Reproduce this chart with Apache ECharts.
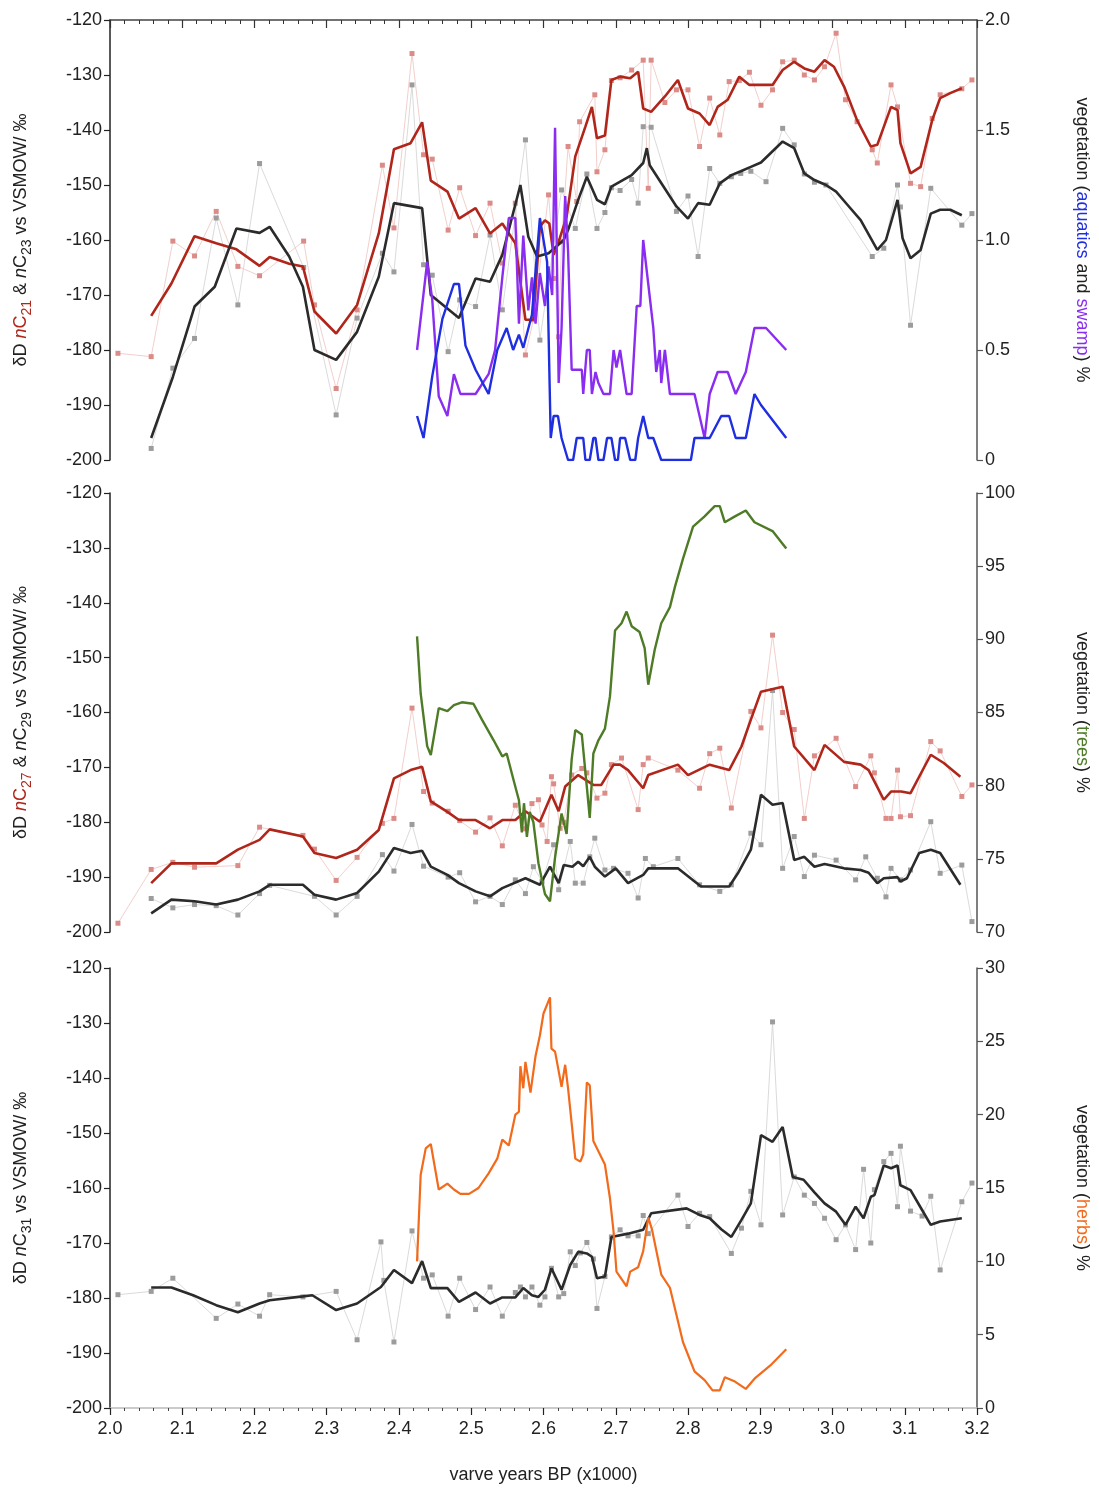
<!DOCTYPE html>
<html>
<head>
<meta charset="utf-8">
<script src="https://cdn.jsdelivr.net/npm/echarts@6/dist/echarts.min.js"></script>
<style>
  html, body { margin: 0; padding: 0; background: #fff; }
  #chart { width: 1099px; height: 1497px; }
</style>
</head>
<body>
<div id="chart"></div>
<script>
// [varve years BP (x1000), value]
// panel 1 : nC21 (red) / nC23 (black) dD, aquatics + swamp %
const c21Raw = [[2.011,-180.6],[2.057,-181.2],[2.087,-160.2],[2.117,-162.9],[2.147,-154.8],[2.177,-164.8],[2.207,-166.5],[2.268,-160.2],[2.283,-171.8],[2.313,-187],[2.342,-172.7],[2.377,-146.4],[2.393,-157.8],[2.418,-126.1],[2.434,-144.5],[2.446,-145.3],[2.468,-158.2],[2.484,-150.5],[2.506,-159.2],[2.526,-153.3],[2.543,-164.2],[2.561,-153.3],[2.575,-180.9],[2.586,-174.5],[2.607,-151.8],[2.616,-167],[2.621,-177.6],[2.625,-160.3],[2.634,-143],[2.646,-153],[2.65,-138.5],[2.671,-133.6],[2.674,-147.6],[2.685,-143.6],[2.694,-131],[2.706,-130.5],[2.722,-129.1],[2.738,-127.3],[2.745,-150.6],[2.749,-127.3],[2.768,-135],[2.784,-132.7],[2.8,-132.7],[2.816,-143],[2.83,-134.2],[2.844,-140.9],[2.857,-131.2],[2.871,-131],[2.885,-129.5],[2.901,-135.5],[2.917,-132.7],[2.931,-127.6],[2.947,-127.3],[2.961,-130],[2.975,-130.9],[2.989,-128.5],[3.005,-122.4],[3.018,-134.5],[3.034,-138.5],[3.055,-143.6],[3.062,-146],[3.081,-131.8],[3.09,-135.8],[3.108,-149.7],[3.122,-150.3],[3.138,-137.9],[3.149,-133.6],[3.179,-132.5],[3.193,-130.9]];
const c21Mean = [[2.057,-173.8],[2.085,-167.9],[2.117,-159.3],[2.147,-160.6],[2.175,-161.7],[2.207,-164.7],[2.221,-163.1],[2.248,-164.3],[2.267,-164.8],[2.283,-173],[2.313,-177],[2.342,-171.8],[2.372,-158.8],[2.393,-143.5],[2.416,-142.4],[2.432,-138.6],[2.444,-149.2],[2.467,-151.2],[2.483,-156.1],[2.506,-154.2],[2.526,-158.8],[2.543,-157],[2.561,-160.6],[2.575,-174.5],[2.586,-174.5],[2.595,-157.6],[2.602,-156.4],[2.608,-157],[2.614,-162.7],[2.621,-160.3],[2.632,-155.8],[2.644,-144.8],[2.658,-139.4],[2.667,-135.8],[2.674,-141.5],[2.685,-141],[2.694,-130.9],[2.706,-130.3],[2.72,-130.6],[2.731,-129.4],[2.738,-136.1],[2.749,-136.7],[2.768,-133.9],[2.786,-130.9],[2.8,-136.1],[2.816,-137],[2.83,-139.1],[2.841,-135.8],[2.855,-134.5],[2.871,-130.3],[2.885,-131.8],[2.901,-131.8],[2.917,-131.8],[2.931,-129.1],[2.947,-127.6],[2.961,-128.8],[2.975,-129.4],[2.989,-127.3],[3.002,-128.5],[3.016,-132.1],[3.034,-138.2],[3.053,-143],[3.062,-142.7],[3.081,-135.8],[3.09,-136.4],[3.094,-142.4],[3.108,-147.9],[3.122,-146.7],[3.138,-138.2],[3.149,-134.2],[3.163,-133.3],[3.179,-132.4]];
const c23Raw = [[2.057,-197.9],[2.087,-183.3],[2.117,-177.9],[2.147,-156],[2.177,-171.8],[2.207,-146.1],[2.268,-165],[2.313,-191.8],[2.342,-174.2],[2.377,-162.4],[2.393,-165.8],[2.418,-131.8],[2.434,-164.5],[2.446,-166.4],[2.468,-180.3],[2.484,-170.9],[2.506,-172.1],[2.526,-159.1],[2.543,-172.7],[2.575,-141.8],[2.595,-178.2],[2.625,-150.9],[2.644,-157.9],[2.66,-148],[2.674,-157.9],[2.685,-155],[2.694,-150.5],[2.706,-151],[2.722,-149],[2.731,-153.3],[2.738,-139.4],[2.749,-139.5],[2.784,-154.8],[2.8,-152],[2.814,-163],[2.83,-147],[2.844,-149.7],[2.86,-148.5],[2.873,-147.9],[2.887,-147.5],[2.908,-149.4],[2.931,-139.7],[2.947,-142.7],[2.961,-148],[2.975,-149.5],[2.991,-150],[3.055,-163],[3.071,-161.5],[3.09,-150],[3.094,-154],[3.108,-175.5],[3.136,-150.6],[3.179,-157.3],[3.193,-155.2]];
const c23Mean = [[2.057,-196],[2.087,-184.9],[2.117,-172.1],[2.145,-168.5],[2.175,-157.9],[2.207,-158.7],[2.221,-157.6],[2.248,-163],[2.267,-168.5],[2.283,-180],[2.313,-181.8],[2.342,-176.7],[2.372,-166.7],[2.393,-153.3],[2.432,-154.2],[2.444,-170],[2.483,-174.2],[2.506,-167],[2.526,-167.6],[2.543,-162.7],[2.568,-150],[2.579,-159.4],[2.591,-163],[2.607,-162.4],[2.628,-160],[2.634,-158.2],[2.648,-152.7],[2.66,-148.5],[2.674,-152.7],[2.685,-153.5],[2.694,-150.3],[2.722,-148.2],[2.738,-146],[2.743,-143.3],[2.747,-146.4],[2.784,-153.9],[2.8,-156.1],[2.814,-153.3],[2.83,-153.6],[2.844,-149.7],[2.86,-148.2],[2.873,-147.5],[2.887,-146.7],[2.901,-145.9],[2.931,-142.1],[2.947,-143.3],[2.961,-147.9],[2.975,-149.1],[2.991,-150],[3.005,-151.2],[3.02,-153.5],[3.039,-156.4],[3.062,-161.8],[3.074,-160],[3.09,-152.7],[3.097,-159.7],[3.108,-163.3],[3.122,-161.8],[3.136,-155.2],[3.149,-154.5],[3.163,-154.5],[3.179,-155.5]];
const aquatics = [[2.425,0.2],[2.434,0.1],[2.446,0.38],[2.46,0.64],[2.476,0.8],[2.483,0.8],[2.492,0.52],[2.506,0.41],[2.524,0.3],[2.536,0.5],[2.549,0.6],[2.558,0.5],[2.566,0.57],[2.572,0.51],[2.584,0.66],[2.595,1.1],[2.605,0.9],[2.61,0.1],[2.614,0.2],[2.62,0.2],[2.625,0.1],[2.634,0],[2.641,0],[2.646,0.1],[2.655,0.1],[2.658,0],[2.664,0],[2.669,0.1],[2.672,0.1],[2.676,0],[2.683,0],[2.688,0.1],[2.694,0.1],[2.699,0],[2.703,0],[2.706,0.1],[2.713,0.1],[2.72,0],[2.727,0],[2.731,0.1],[2.738,0.2],[2.745,0.1],[2.752,0.1],[2.763,0],[2.804,0],[2.809,0.1],[2.83,0.1],[2.846,0.2],[2.857,0.2],[2.866,0.1],[2.88,0.1],[2.892,0.3],[2.901,0.25],[2.936,0.1]];
const swamp = [[2.425,0.5],[2.439,0.9],[2.446,0.73],[2.455,0.29],[2.467,0.2],[2.476,0.39],[2.485,0.3],[2.506,0.3],[2.524,0.39],[2.533,0.5],[2.543,0.83],[2.552,1.1],[2.561,1.1],[2.566,0.62],[2.572,1.02],[2.579,0.68],[2.584,0.83],[2.589,0.62],[2.595,0.85],[2.602,0.7],[2.607,0.88],[2.612,0.75],[2.616,1.51],[2.621,0.35],[2.625,0.6],[2.63,1.2],[2.634,0.95],[2.639,0.41],[2.653,0.41],[2.655,0.3],[2.66,0.5],[2.664,0.5],[2.667,0.3],[2.672,0.4],[2.676,0.35],[2.683,0.3],[2.692,0.3],[2.697,0.5],[2.701,0.42],[2.706,0.5],[2.715,0.3],[2.722,0.3],[2.729,0.7],[2.734,0.7],[2.738,1.0],[2.745,0.8],[2.752,0.6],[2.756,0.4],[2.761,0.5],[2.763,0.35],[2.768,0.5],[2.775,0.3],[2.809,0.3],[2.823,0.1],[2.83,0.3],[2.841,0.4],[2.855,0.4],[2.866,0.3],[2.88,0.4],[2.892,0.6],[2.908,0.6],[2.936,0.5]];

// panel 2 : nC27 (red) / nC29 (black) dD, trees %
const c27Raw = [[2.011,-198.4],[2.057,-188.6],[2.087,-187.3],[2.117,-188.2],[2.177,-187.9],[2.207,-180.9],[2.267,-182.4],[2.283,-184.9],[2.313,-190.6],[2.342,-186.4],[2.377,-180.2],[2.393,-179.3],[2.418,-159.2],[2.434,-174.4],[2.446,-176.5],[2.468,-178],[2.484,-179.7],[2.506,-181.8],[2.526,-179.2],[2.543,-184.3],[2.561,-176.9],[2.575,-181.2],[2.584,-176.6],[2.593,-175.9],[2.598,-180.5],[2.605,-183.5],[2.611,-171.7],[2.614,-173],[2.623,-181.1],[2.628,-180],[2.639,-171.4],[2.653,-170.2],[2.66,-171],[2.674,-175.6],[2.685,-174.7],[2.694,-169.5],[2.708,-168.3],[2.731,-177.7],[2.738,-169.5],[2.745,-168.3],[2.786,-170.5],[2.816,-173.8],[2.83,-167.5],[2.844,-166.5],[2.86,-177.4],[2.887,-159.8],[2.901,-162.8],[2.917,-145.9],[2.931,-160],[2.947,-163.1],[2.961,-179.3],[2.975,-167.9],[3.005,-164.7],[3.032,-173.5],[3.053,-167.9],[3.058,-171],[3.074,-179.3],[3.081,-179.3],[3.09,-170.5],[3.094,-179],[3.108,-178.8],[3.136,-165.3],[3.149,-167],[3.179,-175.3],[3.193,-173.2]];
const c27Mean = [[2.057,-191.1],[2.085,-187.5],[2.117,-187.5],[2.147,-187.5],[2.177,-185],[2.207,-183.2],[2.221,-181.3],[2.267,-182.6],[2.283,-185.6],[2.313,-186.5],[2.342,-185],[2.372,-181.4],[2.393,-172],[2.416,-170.5],[2.432,-169.9],[2.444,-176.2],[2.467,-178.1],[2.483,-179.6],[2.506,-179.6],[2.526,-181.1],[2.543,-179.6],[2.561,-179.6],[2.575,-178],[2.595,-179.9],[2.611,-175],[2.621,-178],[2.63,-173.5],[2.648,-171.4],[2.669,-173.2],[2.68,-173.2],[2.697,-169.5],[2.706,-169.5],[2.717,-170.5],[2.738,-173.8],[2.745,-171.4],[2.786,-169.5],[2.8,-171.4],[2.83,-169.5],[2.857,-170.5],[2.874,-166.2],[2.887,-161.3],[2.901,-156.2],[2.931,-155.3],[2.947,-166.2],[2.975,-170.5],[2.989,-165.9],[3.016,-169],[3.039,-169.5],[3.05,-170.5],[3.071,-175.9],[3.081,-174.4],[3.095,-174.4],[3.108,-174.7],[3.136,-167.7],[3.154,-169.2],[3.177,-171.7]];
const c29Raw = [[2.057,-193.9],[2.087,-195.6],[2.117,-195],[2.147,-195.2],[2.177,-196.9],[2.207,-193],[2.221,-191.5],[2.283,-193.5],[2.313,-196.9],[2.342,-193.5],[2.377,-185.9],[2.393,-188.9],[2.418,-180.4],[2.434,-188],[2.468,-190],[2.484,-189.2],[2.506,-194.5],[2.526,-193.5],[2.543,-195],[2.561,-190.5],[2.575,-193],[2.586,-188.1],[2.598,-190.8],[2.614,-184.1],[2.621,-192.3],[2.637,-183.5],[2.644,-191.1],[2.655,-191.1],[2.664,-186.3],[2.671,-182.9],[2.685,-188.7],[2.697,-188.4],[2.717,-189.3],[2.731,-193.8],[2.741,-186.6],[2.752,-188.1],[2.786,-186.6],[2.816,-191.4],[2.844,-192.6],[2.86,-191.4],[2.887,-182],[2.901,-184.1],[2.917,-156],[2.931,-188.4],[2.947,-182.6],[2.961,-189.9],[2.975,-186],[3.005,-186.9],[3.032,-190.5],[3.046,-186.3],[3.062,-190.2],[3.074,-193.6],[3.081,-188.4],[3.094,-190.5],[3.108,-188.7],[3.136,-179.9],[3.149,-189.3],[3.179,-187.8],[3.193,-198.1]];
const c29Mean = [[2.057,-196.6],[2.085,-194.1],[2.117,-194.4],[2.147,-195],[2.177,-194.1],[2.207,-192.6],[2.221,-191.4],[2.267,-191.4],[2.283,-193.2],[2.313,-194.1],[2.342,-192.9],[2.372,-189],[2.393,-184.7],[2.416,-185.6],[2.432,-185.2],[2.444,-188.1],[2.467,-189.6],[2.483,-191.1],[2.506,-192.6],[2.526,-193.5],[2.543,-192],[2.575,-190.2],[2.595,-191.4],[2.609,-188.1],[2.621,-191.1],[2.628,-187.8],[2.64,-188.1],[2.648,-187.2],[2.655,-188],[2.664,-186.3],[2.671,-188.1],[2.685,-189.9],[2.7,-188.4],[2.717,-191.1],[2.738,-189.6],[2.745,-188.4],[2.786,-188.4],[2.818,-191.7],[2.857,-191.7],[2.869,-189.3],[2.887,-185],[2.901,-175],[2.917,-176.8],[2.931,-176.5],[2.947,-186.9],[2.961,-186.3],[2.975,-188.1],[2.989,-187.6],[3.016,-188.4],[3.039,-188.7],[3.05,-189.2],[3.062,-191.1],[3.071,-190.2],[3.09,-190],[3.094,-190.8],[3.103,-190.2],[3.12,-185.6],[3.136,-185],[3.149,-185.6],[3.177,-191.4]];
const trees = [[2.425,90.2],[2.43,86.3],[2.439,82.7],[2.444,82.1],[2.455,85.3],[2.467,85.1],[2.476,85.5],[2.487,85.7],[2.503,85.6],[2.515,84.5],[2.531,83.1],[2.543,82],[2.549,82.2],[2.559,80.3],[2.566,79],[2.57,76.8],[2.573,78.8],[2.577,76.5],[2.581,78.2],[2.586,77.5],[2.593,74.7],[2.602,72.6],[2.609,72.1],[2.616,75.1],[2.625,78.1],[2.632,76.7],[2.639,81.8],[2.644,83.8],[2.653,83.5],[2.66,79.9],[2.664,77.8],[2.669,82.2],[2.676,83.1],[2.685,83.9],[2.692,86.1],[2.699,90.6],[2.708,91.1],[2.715,91.9],[2.722,90.9],[2.733,90.5],[2.74,89.4],[2.745,86.9],[2.754,89.3],[2.763,91.1],[2.775,92.2],[2.782,93.6],[2.793,95.5],[2.807,97.7],[2.823,98.4],[2.837,99.1],[2.844,99.1],[2.851,98],[2.865,98.4],[2.88,98.8],[2.892,98],[2.917,97.4],[2.936,96.2]];

// panel 3 : nC31 (black) dD, herbs %
const c31Raw = [[2.011,-179.4],[2.057,-178.8],[2.087,-176.4],[2.147,-183.7],[2.177,-181.1],[2.207,-183.3],[2.221,-179.4],[2.267,-179.8],[2.313,-178.8],[2.342,-187.6],[2.375,-169.8],[2.379,-176.8],[2.393,-188],[2.418,-167.8],[2.434,-176.4],[2.446,-175.8],[2.468,-183.3],[2.484,-176.4],[2.506,-182.1],[2.526,-178],[2.543,-183.3],[2.561,-179],[2.568,-178],[2.575,-179.8],[2.584,-178],[2.595,-181.3],[2.602,-179.8],[2.611,-174.6],[2.621,-179.8],[2.628,-179.2],[2.637,-171.6],[2.644,-174.1],[2.651,-171.8],[2.66,-169.9],[2.669,-172.9],[2.674,-181.9],[2.685,-176.1],[2.694,-168.9],[2.706,-167.6],[2.717,-168.7],[2.731,-168.7],[2.738,-165],[2.745,-168.3],[2.786,-161.3],[2.8,-167],[2.816,-164.6],[2.83,-165.2],[2.86,-171.9],[2.874,-167.3],[2.887,-160.6],[2.901,-166.7],[2.917,-129.8],[2.931,-164.9],[2.947,-158],[2.961,-161.3],[2.975,-162.8],[2.989,-165.5],[3.005,-169.4],[3.018,-166.7],[3.032,-171.2],[3.043,-156.6],[3.053,-170],[3.058,-160.3],[3.071,-155.2],[3.081,-153.7],[3.09,-163.4],[3.094,-152.4],[3.108,-164.2],[3.124,-165.1],[3.136,-161.5],[3.149,-174.9],[3.179,-162.5],[3.193,-159.1]];
const c31Mean = [[2.057,-178.1],[2.085,-178.1],[2.115,-179.5],[2.147,-181.3],[2.177,-182.6],[2.207,-181],[2.221,-180.4],[2.267,-179.7],[2.28,-179.5],[2.313,-182.2],[2.342,-181],[2.375,-178],[2.393,-174.9],[2.418,-177.3],[2.432,-173.3],[2.444,-178.2],[2.467,-178.2],[2.483,-180.7],[2.506,-179],[2.526,-181],[2.543,-179.9],[2.561,-179.9],[2.572,-178.2],[2.584,-179.5],[2.593,-179.8],[2.602,-178.5],[2.611,-174.6],[2.625,-178.5],[2.637,-174],[2.648,-171.6],[2.66,-171.9],[2.667,-172.5],[2.674,-176.4],[2.685,-176.1],[2.694,-168.9],[2.717,-168.3],[2.738,-167.6],[2.749,-164.6],[2.798,-163.7],[2.816,-164.9],[2.83,-165.5],[2.846,-167.5],[2.86,-168.9],[2.874,-165.8],[2.887,-162.8],[2.901,-150.4],[2.917,-151.6],[2.931,-148.9],[2.945,-158],[2.96,-158.5],[2.975,-160.8],[2.989,-162.8],[3.005,-164.3],[3.018,-166.7],[3.032,-163.4],[3.043,-165.5],[3.053,-161.6],[3.058,-161.3],[3.071,-155.9],[3.081,-156.4],[3.09,-155.9],[3.094,-159.5],[3.108,-160.4],[3.124,-164],[3.136,-166.7],[3.149,-166.1],[3.179,-165.5]];
const herbs = [[2.425,10],[2.43,15.9],[2.437,17.7],[2.444,18],[2.455,14.9],[2.467,15.3],[2.476,14.9],[2.485,14.6],[2.497,14.6],[2.51,15],[2.524,16],[2.536,17],[2.543,18.3],[2.552,17.9],[2.561,20],[2.566,20.2],[2.568,23.3],[2.572,21.8],[2.575,23.6],[2.582,21.5],[2.589,24],[2.595,25.4],[2.6,26.9],[2.609,28],[2.611,24.5],[2.616,24.3],[2.625,21.9],[2.63,23.4],[2.634,21.8],[2.644,17],[2.651,16.8],[2.655,17.3],[2.66,22.2],[2.664,22],[2.669,18.2],[2.685,16.6],[2.692,14.3],[2.697,12],[2.701,9.3],[2.715,8.3],[2.72,9.3],[2.731,9.6],[2.738,10.7],[2.745,13],[2.75,12.2],[2.763,9.1],[2.775,8.2],[2.793,4.5],[2.809,2.5],[2.823,1.9],[2.834,1.2],[2.844,1.2],[2.851,2.1],[2.865,1.8],[2.88,1.3],[2.892,2],[2.914,2.9],[2.936,4]];

const RED = '#b0261b', BLACK = '#2b2b2b';
const BLUE = '#1f2ee0', PURPLE = '#8a2df0', GREEN = '#4e7b26', ORANGE = '#f26a1b';
const FONT = 'Liberation Sans';

const chart = echarts.init(document.getElementById('chart'))

const grids = [
  { left: 110, width: 870, top: 20, height: 440 },
  { left: 110, width: 870, top: 493, height: 439 },
  { left: 110, width: 870, top: 968, height: 440 }
]

function xAxis (idx) {
  const ax = {
    type: 'value', gridIndex: idx, min: 2.0, max: 3.2, interval: 0.1,
    splitLine: { show: false },
    axisLine: { show: false, onZero: false },
    axisTick: { show: false },
    axisLabel: { show: false }
  }
  if (idx === 0) {
    ax.position = 'top'
    ax.axisLine = { show: true, onZero: false, lineStyle: { color: '#444', width: 1.5 } }
    ax.axisTick = { show: true, inside: true, length: 8, lineStyle: { color: '#333', width: 1.2 } }
    ax.minorTick = { show: true, splitNumber: 5, length: 4, lineStyle: { color: '#333', width: 1 } }
  }
  if (idx === 2) {
    ax.position = 'bottom'
    ax.axisLine = { show: true, onZero: false, lineStyle: { color: '#bbb', width: 1.5 } }
    ax.axisTick = { show: true, length: 7, lineStyle: { color: '#222', width: 1.2 } }
    ax.minorTick = { show: true, splitNumber: 5, length: 3, lineStyle: { color: '#444', width: 1 } }
    ax.axisLabel = {
      show: true, fontSize: 18, color: '#222', fontFamily: FONT, margin: 12,
      formatter: v => v.toFixed(1)
    }
    ax.name = 'varve years BP (x1000)'
    ax.nameLocation = 'middle'
    ax.nameGap = 58
    ax.nameTextStyle = { fontSize: 18, color: '#222', fontFamily: FONT }
  }
  return ax
}

function richStyles () {
  const base = { fontSize: 18, fontFamily: FONT, color: '#222', lineHeight: 26, verticalAlign: 'middle' }
  const sub = { fontSize: 14, fontFamily: FONT, lineHeight: 26, verticalAlign: 'bottom' }
  return {
    a: base,
    i: Object.assign({}, base, { fontStyle: 'italic' }),
    s: Object.assign({}, sub, { color: '#222' }),
    r: Object.assign({}, base, { color: RED }),
    ri: Object.assign({}, base, { color: RED, fontStyle: 'italic' }),
    rs: Object.assign({}, sub, { color: RED }),
    b: Object.assign({}, base, { color: BLUE }),
    p: Object.assign({}, base, { color: PURPLE }),
    g: Object.assign({}, base, { color: GREEN }),
    o: Object.assign({}, base, { color: ORANGE })
  }
}

function leftAxis (idx, name) {
  return {
    type: 'value', gridIndex: idx, position: 'left', min: -200, max: -120, interval: 10,
    splitLine: { show: false },
    axisLine: { show: true, onZero: false, lineStyle: { color: '#222', width: 1.5 } },
    axisTick: { show: true, length: 6, lineStyle: { color: '#222', width: 1.2 } },
    axisLabel: { fontSize: 18, color: '#222', fontFamily: FONT, margin: 8 },
    name: name, nameLocation: 'middle', nameRotate: 90, nameGap: 76,
    nameTextStyle: { rich: richStyles() }
  }
}

function rightAxis (idx, min, max, interval, name, fmt) {
  return {
    type: 'value', gridIndex: idx, position: 'right', min: min, max: max, interval: interval,
    splitLine: { show: false },
    axisLine: { show: true, onZero: false, lineStyle: { color: '#555', width: 1.5 } },
    axisTick: { show: true, length: 6, lineStyle: { color: '#555', width: 1.2 } },
    axisLabel: { fontSize: 18, color: '#222', fontFamily: FONT, margin: 8, formatter: fmt },
    name: name, nameLocation: 'middle', nameRotate: -90, nameGap: 92,
    nameTextStyle: { rich: richStyles() }
  }
}

function raw (data, axis, line, dot) {
  return {
    type: 'line', data: data, xAxisIndex: axis, yAxisIndex: axis * 2,
    symbol: 'rect', symbolSize: 5, showSymbol: true, z: 1,
    lineStyle: { color: line, width: 0.9 },
    itemStyle: { color: dot }
  }
}

function curve (data, xi, yi, color, width) {
  return {
    type: 'line', data: data, xAxisIndex: xi, yAxisIndex: yi,
    showSymbol: false, symbol: 'none', z: 3,
    lineStyle: { color: color, width: width || 2.6 }
  }
}

const option = {
  animation: false,
  backgroundColor: '#fff',
  grid: grids,
  xAxis: [xAxis(0), xAxis(1), xAxis(2)],
  yAxis: [
    leftAxis(0, '{a|δD }{ri|n}{r|C}{rs|21}{a| & }{i|n}{a|C}{s|23}{a| vs VSMOW/ ‰}'),
    rightAxis(0, 0, 2, 0.5, '{a|vegetation (}{b|aquatics}{a| and }{p|swamp}{a|) %}', v => v === 0 ? '0' : v.toFixed(1)),
    leftAxis(1, '{a|δD }{ri|n}{r|C}{rs|27}{a| & }{i|n}{a|C}{s|29}{a| vs VSMOW/ ‰}'),
    rightAxis(1, 70, 100, 5, '{a|vegetation (}{g|trees}{a|) %}', v => String(v)),
    leftAxis(2, '{a|δD }{i|n}{a|C}{s|31}{a| vs VSMOW/ ‰}'),
    rightAxis(2, 0, 30, 5, '{a|vegetation (}{o|herbs}{a|) %}', v => String(v))
  ],
  series: [
    raw(c21Raw, 0, '#efc9c6', '#dc8c88'),
    raw(c23Raw, 0, '#d6d6d6', '#9c9c9c'),
    curve(c21Mean, 0, 0, RED),
    curve(c23Mean, 0, 0, BLACK),
    curve(swamp, 0, 1, PURPLE, 2.4),
    curve(aquatics, 0, 1, BLUE, 2.4),

    raw(c27Raw, 1, '#efc9c6', '#dc8c88'),
    raw(c29Raw, 1, '#d6d6d6', '#9c9c9c'),
    curve(c27Mean, 1, 2, RED),
    curve(c29Mean, 1, 2, BLACK),
    curve(trees, 1, 3, GREEN, 2.4),

    raw(c31Raw, 2, '#d6d6d6', '#9c9c9c'),
    curve(c31Mean, 2, 4, BLACK),
    curve(herbs, 2, 5, ORANGE, 2.2)
  ]
}

chart.setOption(option)
</script>
</body>
</html>
